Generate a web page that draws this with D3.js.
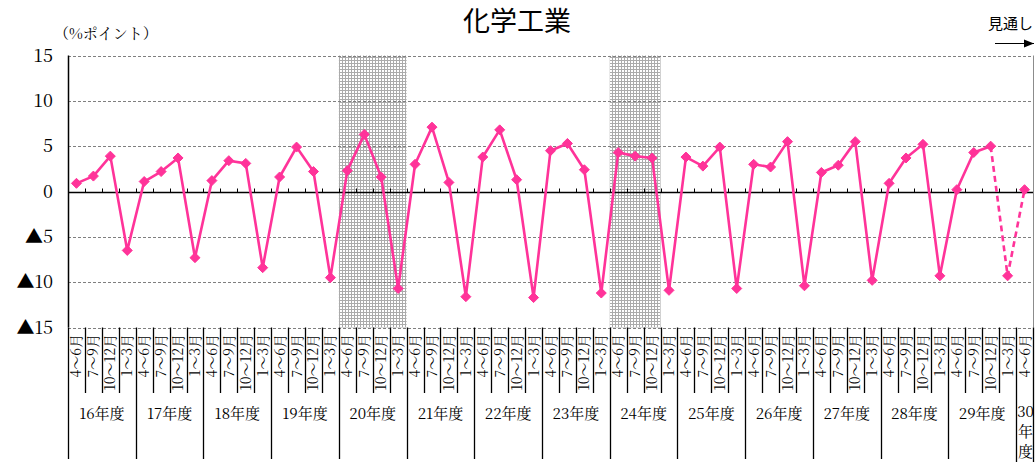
<!DOCTYPE html>
<html>
<head>
<meta charset="utf-8">
<script src="https://cdn.jsdelivr.net/npm/d3@7/dist/d3.min.js"></script>
<style>
  html, body { margin: 0; padding: 0; background: #fff; }
  svg { display: block; }
</style>
</head>
<body>
<svg id="chart" width="1036" height="462"></svg>
<script>
// 化学工業：前年同期比の推移（%ポイント）
const years = ["16", "17", "18", "19", "20", "21", "22", "23", "24", "25", "26", "27", "28", "29", "30"];
const quarters = ["4～6月", "7～9月", "10～12月", "1～3月"];
const values = [
  0.9, 1.7, 3.9, -6.5,
  1.1, 2.2, 3.7, -7.3,
  1.2, 3.4, 3.1, -8.4,
  1.6, 4.9, 2.2, -9.5,
  2.3, 6.3, 1.6, -10.7,
  3.0, 7.1, 1.0, -11.6,
  3.8, 6.8, 1.3, -11.7,
  4.5, 5.3, 2.4, -11.2,
  4.3, 3.9, 3.7, -10.9,
  3.8, 2.8, 4.9, -10.7,
  3.0, 2.7, 5.5, -10.4,
  2.1, 2.9, 5.5, -9.8,
  0.9, 3.7, 5.2, -9.3,
  0.2, 4.3, 5.0, -9.3,
  0.2
];
const forecastFrom = 54;              // index where the outlook (dashed) segment begins
const shadedRanges = [[16, 20], [32, 35]]; // recession periods (category index ranges)
const yTicks = [15, 10, 5, 0, -5, -10, -15];

// category list: one entry per quarter
const cats = values.map((v, i) => ({
  i,
  year: years[Math.floor(i / 4)],
  q: quarters[i % 4],
  v
}));

const MINCHO = '"Noto Serif CJK JP", "Liberation Serif", "Noto Sans CJK JP", serif';
const SANS = '"Noto Sans CJK JP", sans-serif';

const svg = d3.select("#chart");
const plotL = 68, plotR = 1033, plotT = 55.5, plotB = 327.5;
const color = "#ff3399";

const x = d3.scaleBand().domain(cats.map(d => d.i)).range([plotL, plotR]).paddingInner(0).paddingOuter(0);
const y = d3.scaleLinear().domain([-15, 15]).range([plotB, plotT]);
const bw = x.bandwidth();
const cx = i => x(i) + bw / 2;

// dotted fill for shaded periods
const defs = svg.append("defs");
const pat = defs.append("pattern").attr("id", "dots").attr("patternUnits", "userSpaceOnUse")
  .attr("width", 3).attr("height", 3);
pat.append("rect").attr("width", 3).attr("height", 3).attr("fill", "#ababab");
pat.append("rect").attr("x", 1).attr("y", 1).attr("width", 2).attr("height", 2).attr("fill", "#ffffff");

svg.append("g").selectAll("rect").data(shadedRanges).join("rect")
  .attr("x", d => x(d[0]))
  .attr("width", d => x(d[1] - 1) + bw - x(d[0]))
  .attr("y", plotT).attr("height", plotB - plotT)
  .attr("fill", "url(#dots)");

// horizontal grid
svg.append("g").selectAll("line").data(yTicks.filter(t => t !== 0)).join("line")
  .attr("x1", plotL).attr("x2", plotR)
  .attr("y1", d => Math.round(y(d)) + 0.5).attr("y2", d => Math.round(y(d)) + 0.5)
  .attr("stroke", "#7f7f7f").attr("stroke-width", 1).attr("stroke-dasharray", "3,2");

// right border
svg.append("line").attr("x1", plotR + 0.5).attr("x2", plotR + 0.5).attr("y1", plotT).attr("y2", plotB)
  .attr("stroke", "#8c8c8c").attr("stroke-width", 1);

// zero line with tick marks at category boundaries
const zy = Math.round(y(0)) + 0.5;
svg.append("line").attr("x1", plotL).attr("x2", plotR).attr("y1", zy).attr("y2", zy)
  .attr("stroke", "#000").attr("stroke-width", 1.5);
svg.append("g").selectAll("line").data(d3.range(1, cats.length)).join("line")
  .attr("x1", i => Math.round(x(i)) + 0.5).attr("x2", i => Math.round(x(i)) + 0.5)
  .attr("y1", zy - 4).attr("y2", zy)
  .attr("stroke", "#000").attr("stroke-width", 1);

// left axis
svg.append("line").attr("x1", plotL + 0.5).attr("x2", plotL + 0.5).attr("y1", plotT).attr("y2", plotB)
  .attr("stroke", "#000").attr("stroke-width", 1.5);

// y tick labels (negative values written with ▲)
svg.append("g").selectAll("text").data(yTicks).join("text")
  .style("font-family", MINCHO)
  .attr("x", 53).attr("y", d => y(d) + 6)
  .attr("text-anchor", "end")
  .attr("font-size", 18)
  .attr("fill", "#000")
  .text(d => d < 0 ? "▲" + Math.abs(d) : String(d));

// unit label
svg.append("text").style("font-family", MINCHO).attr("x", 54).attr("y", 39)
  .attr("font-size", 15).attr("fill", "#000").text("（%ポイント）");

// title
svg.append("text").style("font-family", SANS).attr("x", 517).attr("y", 31)
  .attr("text-anchor", "middle").attr("font-size", 27).attr("font-weight", 400)
  .attr("fill", "#000").text("化学工業");

// outlook label and arrow
svg.append("text").style("font-family", SANS).attr("x", 1033).attr("y", 29)
  .attr("text-anchor", "end").attr("font-size", 15).attr("fill", "#000").text("見通し");
defs.append("marker").attr("id", "arrow").attr("viewBox", "0 0 10 10")
  .attr("refX", 10).attr("refY", 5).attr("markerWidth", 10).attr("markerHeight", 10)
  .attr("markerUnits", "userSpaceOnUse").attr("orient", "auto")
  .append("path").attr("d", "M0,1 L10,5 L0,9 Z").attr("fill", "#000");
svg.append("line").attr("x1", 995).attr("x2", 1034).attr("y1", 43.5).attr("y2", 43.5)
  .attr("stroke", "#000").attr("stroke-width", 1.2).attr("marker-end", "url(#arrow)");

// category table below the plot
const table = svg.append("g");
d3.range(0, cats.length + 1).forEach(i => {
  const xx = i === cats.length ? plotR + 0.5 : Math.round(x(i)) + 0.5;
  const isYear = i % 4 === 0 || i === cats.length;
  table.append("line").attr("x1", xx).attr("x2", xx)
    .attr("y1", plotB).attr("y2", isYear ? (i >= 56 ? 462 : 459) : 393)
    .attr("stroke", "#000").attr("stroke-width", 1.3);
});
table.selectAll("text.q").data(cats).join("text")
  .attr("class", "q")
  .style("font-family", MINCHO)
  .attr("transform", d => `translate(${cx(d.i) + 5},334) rotate(-90)`)
  .attr("text-anchor", "end")
  .attr("font-size", 14)
  .attr("fill", "#000")
  .text(d => d.q);

// fiscal year labels
const yearGroups = years.map((yr, k) => ({ yr, first: k * 4, last: Math.min(k * 4 + 3, cats.length - 1) }));
yearGroups.forEach(g => {
  const mid = (x(g.first) + x(g.last) + bw) / 2;
  if (g.last - g.first >= 3) {
    table.append("text").style("font-family", MINCHO).attr("x", mid).attr("y", 419)
      .attr("text-anchor", "middle").attr("font-size", 15).attr("fill", "#000")
      .text(g.yr + "年度");
  } else {
    const t = table.append("text").style("font-family", MINCHO).attr("text-anchor", "middle")
      .attr("font-size", 15).attr("fill", "#000");
    [g.yr, "年", "度"].forEach((s, k) => {
      t.append("tspan").attr("x", mid + 1).attr("y", 417 + k * 20).text(s);
    });
  }
});

// series line: actual (solid) and outlook (dashed)
const line = d3.line().x(d => cx(d.i)).y(d => y(d.v));
svg.append("path").datum(cats.slice(0, forecastFrom + 1))
  .attr("d", line).attr("fill", "none").attr("stroke", color)
  .attr("stroke-width", 2.6).attr("stroke-linejoin", "round");
svg.append("path").datum(cats.slice(forecastFrom))
  .attr("d", line).attr("fill", "none").attr("stroke", color)
  .attr("stroke-width", 2.6).attr("stroke-dasharray", "6,4");

// diamond markers
svg.append("g").selectAll("path").data(cats).join("path")
  .attr("transform", d => `translate(${cx(d.i)},${y(d.v)})`)
  .attr("d", "M0,-5 L5,0 L0,5 L-5,0 Z")
  .attr("fill", color).attr("stroke", color).attr("stroke-width", 1);
</script>
</body>
</html>
